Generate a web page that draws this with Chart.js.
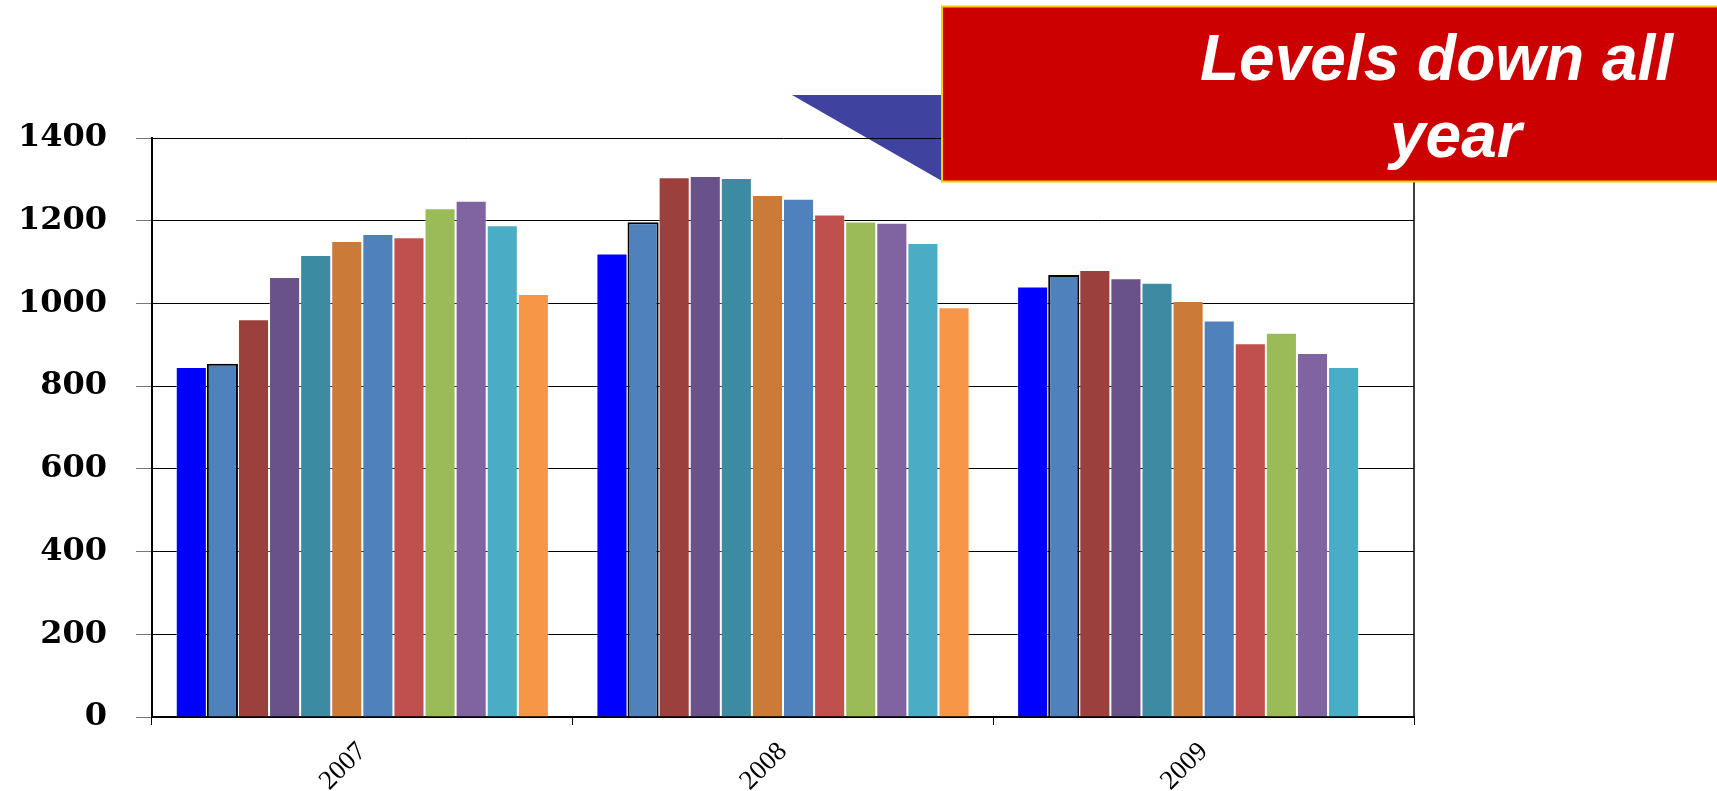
<!DOCTYPE html>
<html><head><meta charset="utf-8">
<script src="https://cdn.jsdelivr.net/npm/chart.js@4/dist/chart.umd.min.js"></script>
<style>html,body{margin:0;padding:0;background:#fff;overflow:hidden}#wrap{width:1717px;height:791px}</style>
</head><body><div id="wrap"><canvas id="c" width="1717" height="791"></canvas></div>
<script>
// Categories
const years = ['2007', '2008', '2009'];
// Series (one per month), values read per year
const m01 = [846, 1121, 1041];
const m02 = [854, 1196, 1069];
const m03 = [962, 1305, 1081];
const m04 = [1064, 1308, 1061];
const m05 = [1117, 1303, 1050];
const m06 = [1151, 1262, 1006];
const m07 = [1168, 1253, 959];
const m08 = [1160, 1215, 904];
const m09 = [1230, 1198, 929];
const m10 = [1248, 1195, 880];
const m11 = [1189, 1146, 846];
const m12 = [1023, 991, null];
const seriesNames = ['Jan','Feb','Mar','Apr','May','Jun','Jul','Aug','Sep','Oct','Nov','Dec'];
const seriesValues = [m01,m02,m03,m04,m05,m06,m07,m08,m09,m10,m11,m12];
const seriesColors = ['#0000FF','#4F81BD','#9C403E','#69518A','#3D8BA3','#CB7A38','#4F81BD','#C0504D','#9BBB59','#8064A2','#4BACC6','#F79646'];
// Y tick labels
const yTicks = [0, 200, 400, 600, 800, 1000, 1200, 1400];
// Annotation text
const calloutLines = ['Levels down all', 'year'];

const datasets = seriesNames.map((n, i) => ({
  label: n,
  data: seriesValues[i],
  backgroundColor: seriesColors[i],
  borderColor: i === 1 ? '#000000' : 'rgba(255,255,255,0.35)',
  borderWidth: i === 1 ? 2 : 1,
  borderSkipped: 'bottom',
  categoryPercentage: 0.887,
  barPercentage: 1.0
}));

const decor = {
  id: 'decor',
  beforeDraw(chart) {
    const ctx = chart.ctx;
    ctx.save();
    ctx.fillStyle = '#4042A0';
    ctx.beginPath();
    ctx.moveTo(792, 95);
    ctx.lineTo(942, 95);
    ctx.lineTo(942, 181);
    ctx.closePath();
    ctx.fill();
    ctx.restore();
  },
  afterDraw(chart) {
    const ctx = chart.ctx;
    const a = chart.chartArea;
    const y = chart.scales.y;
    ctx.save();
    // right border
    ctx.strokeStyle = '#000';
    ctx.lineWidth = 1.5;
    ctx.beginPath();
    ctx.moveTo(a.right, y.getPixelForValue(yTicks[yTicks.length - 1]));
    ctx.lineTo(a.right, y.getPixelForValue(0));
    ctx.stroke();
    // callout box
    ctx.fillStyle = '#CC0000';
    ctx.fillRect(942, 6.5, 800, 175);
    ctx.strokeStyle = '#FFCC00';
    ctx.lineWidth = 2;
    ctx.strokeRect(942, 6.5, 800, 175);
    ctx.fillStyle = '#FFFFFF';
    ctx.font = 'italic bold 64px "Liberation Sans", Arial, sans-serif';
    ctx.textBaseline = 'alphabetic';
    ctx.textAlign = 'left';
    ctx.fillText(calloutLines[0], 1200, 80);
    ctx.fillText(calloutLines[1], 1390, 157);
    ctx.restore();
  }
};

new Chart(document.getElementById('c'), {
  type: 'bar',
  data: { labels: years, datasets },
  options: {
    responsive: false,
    animation: false,
    devicePixelRatio: 1,
    layout: { padding: { left: 0, right: 303, top: 138, bottom: 0 } },
    plugins: { legend: { display: false }, tooltip: { enabled: false } },
    scales: {
      x: {
        offset: true,
        grid: { offset: true, drawOnChartArea: false, drawTicks: true, tickLength: 8, color: '#000', lineWidth: 1 },
        border: { display: true, color: '#000', width: 2 },
        ticks: {
          minRotation: 45, maxRotation: 45, color: '#000', padding: 11,
          font: { family: '"Liberation Serif", "Times New Roman", serif', size: 27 }
        },
        afterFit(s) { s.height = 74; }
      },
      y: {
        min: 0, max: 1400,
        afterBuildTicks(s) { s.ticks = yTicks.map(v => ({ value: v })); },
        grid: { color: '#000', lineWidth: 1, tickLength: 16, tickColor: '#777' },
        border: { display: true, color: '#000', width: 2 },
        ticks: {
          color: '#000', padding: 29,
          callback: (v) => String(v),
          font: { family: '"DejaVu Serif", serif', size: 32, weight: 'bold' }
        },
        afterFit(s) { s.width = 152; }
      }
    }
  },
  plugins: [decor]
});
</script>
</body></html>
